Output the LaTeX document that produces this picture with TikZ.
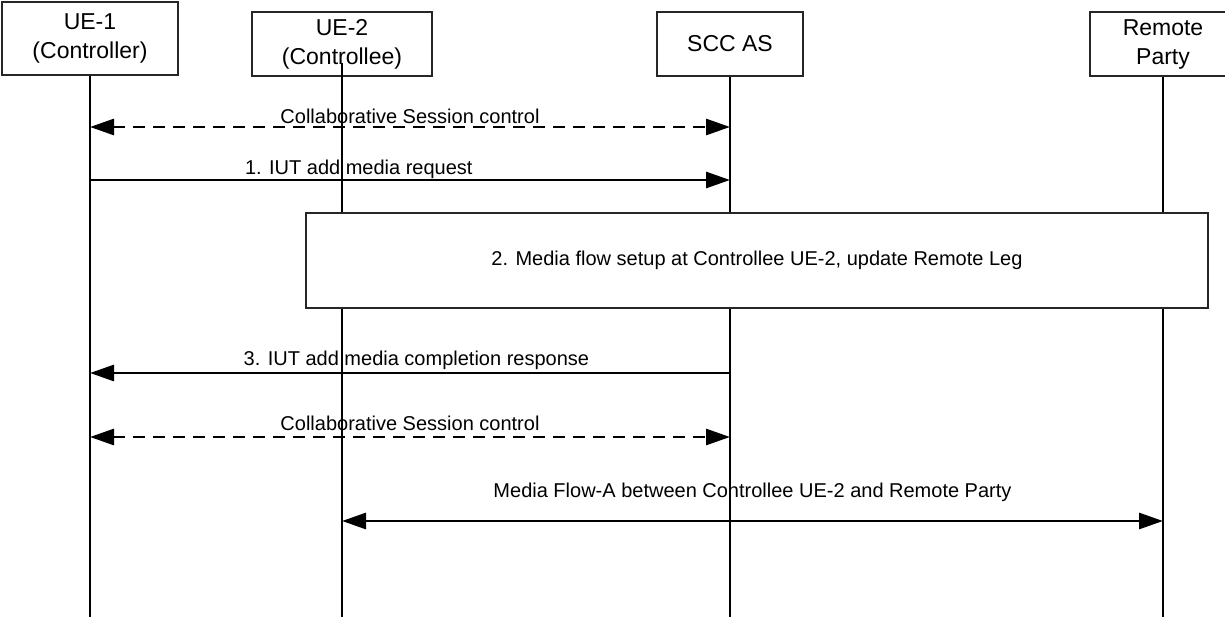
\documentclass[tikz,border=0pt]{standalone}
\usepackage{fontspec}
\setmainfont{Liberation Sans}
\usetikzlibrary{arrows.meta, positioning}

\begin{document}
\begin{tikzpicture}[x=1pt, y=-1pt,
  actor/.style={draw=black!85, line width=1.2pt, fill=white, align=center,
    font=\fontsize{23}{29}\selectfont, inner sep=0pt},
  procbox/.style={draw=black!85, line width=1.2pt, fill=white,
    minimum width=902pt, minimum height=95pt, font=\fontsize{20}{24}\selectfont},
  life/.style={draw=black, line width=1.3pt},
  >={Triangle[length=24pt, width=16pt]},
  msg/.style={draw=black, line width=2.8pt, ->},
  bimsg/.style={draw=black, line width=2.8pt, <->},
  ctrl/.style={bimsg, dash pattern=on 12pt off 8pt},
  lbl/.style={font=\fontsize{20}{24}\selectfont, anchor=base},
]

% Canvas
\useasboundingbox (0,0) rectangle (1225,617);
\fill[white] (0,0) rectangle (1225,617);

% Participants
\node[actor, minimum width=176pt, minimum height=73pt] (ue1) at (90,38.5) {UE-1\\(Controller)};
\node[actor, minimum width=180pt, minimum height=64pt] (ue2) at (342,44) {UE-2\\(Controllee)};
\node[actor, minimum width=146pt, minimum height=64pt] (scc) at (730,44) {SCC AS};
\node[actor, minimum width=146pt, minimum height=64pt] (rp) at (1163,44) {Remote\\Party};

% Lifelines
\coordinate (bottom) at (0,617);
\foreach \p in {ue1,scc,rp}
  \draw[life] (\p.south) -- (\p |- bottom);
\draw[life] ([yshift=14pt]ue2.south) -- (ue2 |- bottom);

% Step 2
\node[procbox] (setup) at (757,260.5) {2. Media flow setup at Controllee UE-2, update Remote Leg};

% Messages
\coordinate (m1) at (0,127);
\coordinate (m2) at (0,180);
\coordinate (m3) at (0,373);
\coordinate (m4) at (0,437);
\coordinate (m5) at (0,521);

\draw[ctrl] (ue1 |- m1) -- node[lbl, yshift=3pt] {Collaborative Session control} (scc |- m1);
\draw[msg] (ue1 |- m2) -- node[lbl, pos=0.42, yshift=5pt] {1. IUT add media request} (scc |- m2);
\draw[msg] (scc |- m3) -- node[lbl, pos=0.49, yshift=8pt] {3. IUT add media completion response} (ue1 |- m3);
\draw[ctrl] (ue1 |- m4) -- node[lbl, yshift=7pt] {Collaborative Session control} (scc |- m4);
\draw[bimsg] (ue2 |- m5) -- node[lbl, yshift=24pt] {Media Flow-A between Controllee UE-2 and Remote Party} (rp |- m5);
\end{tikzpicture}
\end{document}
